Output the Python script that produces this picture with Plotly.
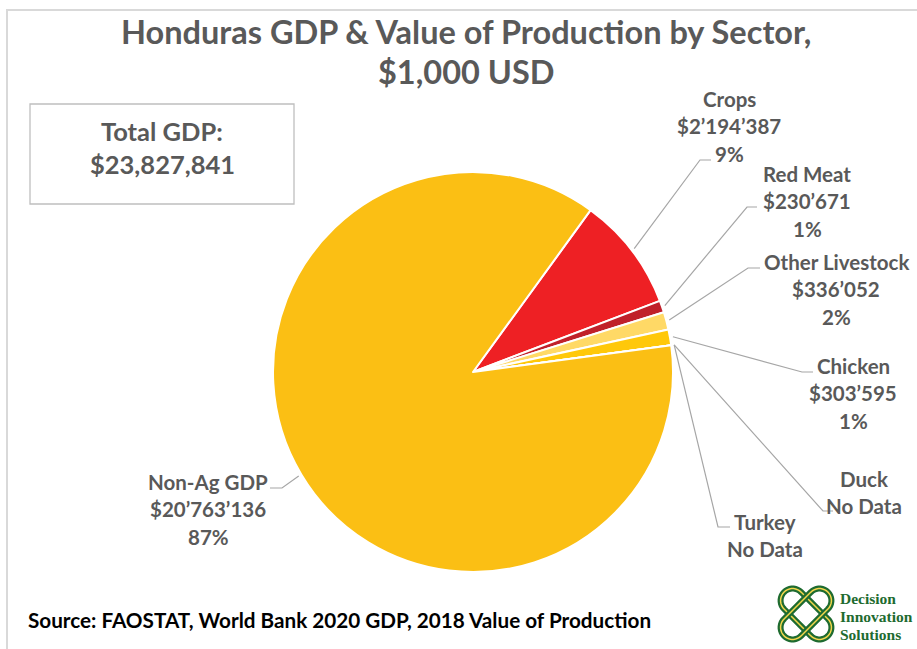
import math
import plotly.graph_objects as go

# ---------------- data ----------------
sectors = ["Crops", "Red Meat", "Other Livestock", "Chicken", "Duck", "Turkey", "Non-Ag GDP"]
values = [2194387, 230671, 336052, 303595, None, None, 20763136]   # $1,000 USD
value_text = ["$2’194’387", "$230’671", "$336’052", "$303’595", "No Data", "No Data", "$20’763’136"]
pct_text = ["9%", "1%", "2%", "1%", "", "", "87%"]
colors = ["#EE2024", "#C0202A", "#FFD966", "#FFC80A", "#FFC000", "#FFC000", "#FBBF14"]
total_gdp = "$23,827,841"

W, H = 917, 649
CX, CY, R = 473, 372, 200
ROT = 36

def px(x):
    return x / W

def py(y):
    return 1 - y / H

pie_vals = [v if v is not None else 0 for v in values]

fig = go.Figure(go.Pie(
    labels=sectors, values=pie_vals, sort=False, direction="clockwise",
    rotation=ROT, textinfo="none", hoverinfo="label+value+percent",
    marker=dict(colors=colors, line=dict(color="white", width=2)),
    domain=dict(x=[px(CX - R), px(CX + R)], y=[py(CY + R), py(CY - R)]),
    showlegend=False,
))

GRAY = "#595959"
LBL = dict(family="Lato, Noto Sans, sans-serif", size=20.5, color=GRAY)
ann = []
shapes = []

# label layout: (center x, first line y, elbow point, line end point)
layout_pos = {
    "Crops": (729, 99, (700, 160), (711, 160)),
    "Red Meat": (807, 174, (747, 207), (757, 207)),
    "Other Livestock": (836, 262, (748, 268), (760, 268)),
    "Chicken": (853, 366, (802, 372), (813, 372)),
    "Duck": (864, 479, (823, 511), (833, 511)),
    "Turkey": (765, 522, (718, 527), (730, 527)),
    "Non-Ag GDP": (208, 482, (282, 488), (270, 488)),
}

total = sum(pie_vals)
cum = 0.0
for name, v, vt, pt in zip(sectors, pie_vals, value_text, pct_text):
    a0 = ROT + 360 * cum / total
    cum += v
    a1 = ROT + 360 * cum / total
    mid = math.radians((a0 + a1) / 2)
    sx = CX + (R + 3) * math.sin(mid)
    sy = CY - (R + 3) * math.cos(mid)
    cx, y0, (ex, ey), (fx, fy) = layout_pos[name]
    lines = [name, vt] + ([pt] if pt else [])
    for i, t in enumerate(lines):
        ann.append(dict(x=px(cx), y=py(y0 + 27.3 * i), xref="paper", yref="paper",
                        text="<b>" + t + "</b>", showarrow=False, font=LBL,
                        xanchor="center", yanchor="middle"))
    shapes.append(dict(type="path", xref="paper", yref="paper",
                       path=f"M {px(sx)} {py(sy)} L {px(ex)} {py(ey)} L {px(fx)} {py(fy)}",
                       line=dict(color="#A6A6A6", width=1.2)))

# title
TITLE_FONT = dict(family="Lato, sans-serif", size=32.5, color=GRAY)
ann.append(dict(x=px(466), y=py(31), xref="paper", yref="paper", showarrow=False,
                text="<b>Honduras GDP &amp; Value of Production by Sector,</b>",
                font=TITLE_FONT, xanchor="center", yanchor="middle"))
ann.append(dict(x=px(466), y=py(72), xref="paper", yref="paper", showarrow=False,
                text="<b>$1,000 USD</b>", font=TITLE_FONT, xanchor="center", yanchor="middle"))

# total GDP box
shapes.append(dict(type="rect", xref="paper", yref="paper",
                   x0=px(30), x1=px(294), y0=py(204), y1=py(104),
                   line=dict(color="#BFBFBF", width=1.3), fillcolor="white"))
BOX_FONT = dict(family="Lato, sans-serif", size=25.5, color=GRAY)
ann.append(dict(x=px(162), y=py(131), xref="paper", yref="paper", showarrow=False,
                text="<b>Total GDP:</b>", font=BOX_FONT, xanchor="center", yanchor="middle"))
ann.append(dict(x=px(162), y=py(164), xref="paper", yref="paper", showarrow=False,
                text="<b>" + total_gdp + "</b>", font=BOX_FONT, xanchor="center", yanchor="middle"))

# source
ann.append(dict(x=px(26), y=py(620), xref="paper", yref="paper", showarrow=False,
                text="<b>Source: FAOSTAT, World Bank 2020 GDP, 2018 Value of Production</b>",
                font=dict(family="Lato, sans-serif", size=20.7, color="black"),
                xanchor="left", yanchor="middle"))

# outer frame (left and top edges)
shapes.append(dict(type="path", xref="paper", yref="paper",
                   path=f"M {px(7)} {py(649)} L {px(7)} {py(10)} L {px(917)} {py(10)}",
                   line=dict(color="#D9D9D9", width=2)))

# logo: two interlaced loops
def loop_path(cx, cy, length, width, ang):
    pts = []
    hl = (length - width) / 2
    r = width / 2
    for k in range(0, 19):
        t = -math.pi / 2 + math.pi * k / 18
        pts.append((hl + r * math.cos(t), r * math.sin(t)))
    for k in range(0, 19):
        t = math.pi / 2 + math.pi * k / 18
        pts.append((-hl + r * math.cos(t), r * math.sin(t)))
    ca, sa = math.cos(math.radians(ang)), math.sin(math.radians(ang))
    out = []
    for (x, y) in pts:
        X = cx + x * ca - y * sa
        Y = cy + x * sa + y * ca
        out.append(f"{px(X)} {py(Y)}")
    return "M " + " L ".join(out) + " Z"

LCX, LCY = 806, 614
for ang in (45, -45):
    shapes.append(dict(type="path", xref="paper", yref="paper", path=loop_path(LCX, LCY, 62, 24, ang),
                       line=dict(color="#1E6B30", width=6)))
    shapes.append(dict(type="path", xref="paper", yref="paper", path=loop_path(LCX, LCY, 62, 24, ang),
                       line=dict(color="#F2D64B", width=1.5)))

for i, t in enumerate(["Decision", "Innovation", "Solutions"]):
    ann.append(dict(x=px(838), y=py(598 + 18 * i), xref="paper", yref="paper", showarrow=False,
                    text="<b>" + t + "</b>",
                    font=dict(family="Liberation Serif, DejaVu Serif, serif", size=15.5, color="#1E6B30"),
                    xanchor="left", yanchor="middle"))

fig.update_layout(width=W, height=H, margin=dict(l=0, r=0, t=0, b=0),
                  paper_bgcolor="white", plot_bgcolor="white",
                  annotations=ann, shapes=shapes)
fig.write_html("out.html", config={"displayModeBar": False},
               post_script="document.body.style.margin='0';document.body.style.overflow='hidden';")
